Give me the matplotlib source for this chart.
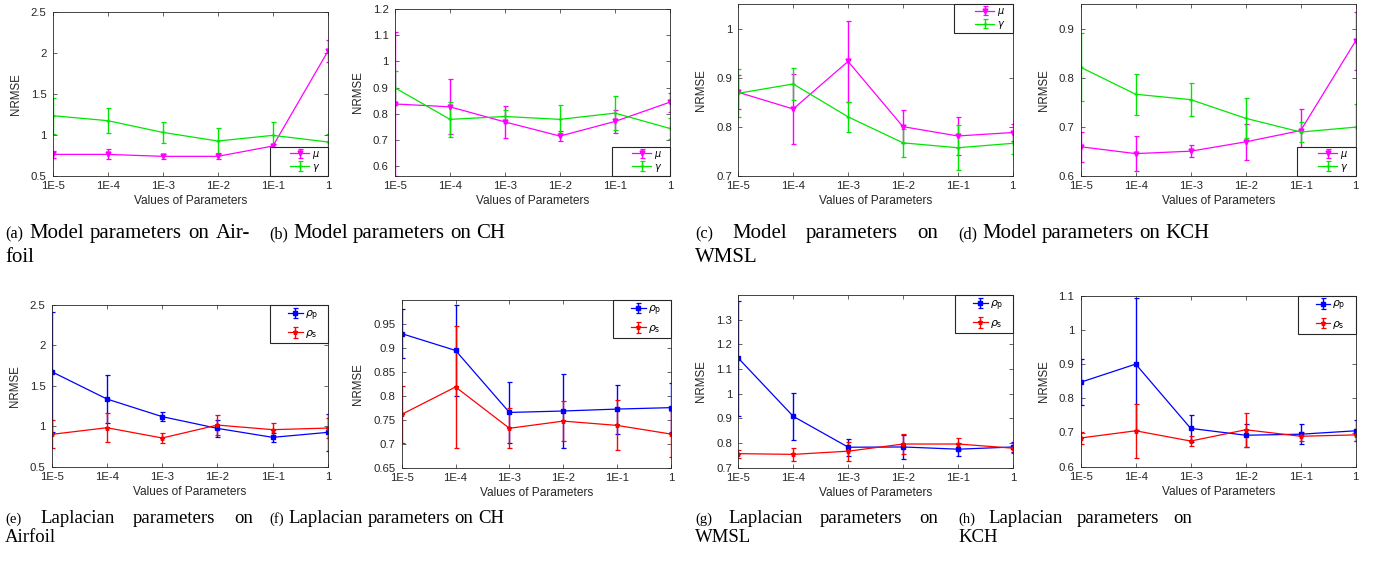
import numpy as np
import matplotlib
matplotlib.use('Agg')
import matplotlib.pyplot as plt
from matplotlib.ticker import FuncFormatter, FixedLocator
from matplotlib.legend_handler import HandlerErrorbar

# ---------------- data ----------------
x_labels = ['1E-5', '1E-4', '1E-3', '1E-2', '1E-1', '1']

# (a) Model parameters on Airfoil
a_mu = [0.76, 0.76, 0.736, 0.736, 0.862, 2.02]
a_mu_err = [0.045, 0.06, 0.03, 0.035, 0.03, 0.135]
a_gamma = [1.232, 1.171, 1.028, 0.923, 0.992, 0.911]
a_gamma_err = [0.22, 0.15, 0.125, 0.16, 0.16, 0.10]

# (b) Model parameters on CH
b_mu = [0.837, 0.826, 0.768, 0.714, 0.770, 0.844]
b_mu_err = [0.275, 0.105, 0.062, 0.02, 0.043, 0.037]
b_gamma = [0.899, 0.778, 0.789, 0.778, 0.802, 0.743]
b_gamma_err = [0.065, 0.068, 0.024, 0.054, 0.064, 0.039]

# (c) Model parameters on WMSL
c_mu = [0.870, 0.836, 0.933, 0.800, 0.781, 0.788]
c_mu_err = [0.035, 0.072, 0.083, 0.034, 0.039, 0.017]
c_gamma = [0.868, 0.887, 0.820, 0.767, 0.757, 0.766]
c_gamma_err = [0.049, 0.032, 0.031, 0.028, 0.046, 0.022]

# (d) Model parameters on KCH
d_mu = [0.659, 0.645, 0.650, 0.669, 0.692, 0.875]
d_mu_err = [0.031, 0.036, 0.012, 0.037, 0.043, 0.059]
d_gamma = [0.821, 0.766, 0.755, 0.717, 0.689, 0.699]
d_gamma_err = [0.069, 0.042, 0.034, 0.041, 0.02, 0.047]

# (e) Laplacian parameters on Airfoil
e_rp = [1.675, 1.337, 1.119, 0.974, 0.863, 0.925]
e_rp_err = [0.74, 0.30, 0.058, 0.107, 0.052, 0.23]
e_rs = [0.90, 0.982, 0.855, 1.015, 0.958, 0.978]
e_rs_err = [0.173, 0.177, 0.066, 0.12, 0.082, 0.12]

# (f) Laplacian parameters on CH
f_rp = [0.929, 0.894, 0.765, 0.768, 0.772, 0.775]
f_rp_err = [0.051, 0.095, 0.064, 0.077, 0.051, 0.051]
f_rs = [0.761, 0.818, 0.732, 0.747, 0.738, 0.720]
f_rs_err = [0.059, 0.126, 0.042, 0.042, 0.052, 0.047]

# (g) Laplacian parameters on WMSL
g_rp = [1.144, 0.908, 0.783, 0.784, 0.775, 0.784]
g_rp_err = [0.233, 0.096, 0.035, 0.05, 0.026, 0.021]
g_rs = [0.757, 0.754, 0.767, 0.796, 0.796, 0.779]
g_rs_err = [0.016, 0.027, 0.039, 0.039, 0.025, 0.02]

# (h) Laplacian parameters on KCH
h_rp = [0.847, 0.900, 0.712, 0.692, 0.695, 0.705]
h_rp_err = [0.067, 0.194, 0.039, 0.033, 0.029, 0.031]
h_rs = [0.684, 0.705, 0.675, 0.708, 0.689, 0.693]
h_rs_err = [0.018, 0.079, 0.015, 0.049, 0.013, 0.018]

model_labels = [r'$\mu$', r'$\gamma$']
lap_labels = [r'$\rho_{\rm p}$', r'$\rho_{\rm s}$']

captions = [
    ('(a)', [['Model', 'parameters', 'on', 'Air-'], ['foil']]),
    ('(b)', [['Model', 'parameters', 'on', 'CH']]),
    ('(c)', [['Model', 'parameters', 'on'], ['WMSL']]),
    ('(d)', [['Model', 'parameters', 'on', 'KCH']]),
    ('(e)', [['Laplacian', 'parameters', 'on'], ['Airfoil']]),
    ('(f)', [['Laplacian', 'parameters', 'on', 'CH']]),
    ('(g)', [['Laplacian', 'parameters', 'on'], ['WMSL']]),
    ('(h)', [['Laplacian', 'parameters', 'on'], ['KCH']]),
]

# ---------------- layout / style ----------------
W, H = 1392, 561
fig = plt.figure(figsize=(W / 100, H / 100), dpi=100)
plt.rcParams['font.family'] = ['Liberation Sans', 'DejaVu Sans']
plt.rcParams['mathtext.fontset'] = 'dejavusans'
TXT = '#262626'


class ShiftedErrorbarHandler(HandlerErrorbar):
    """MATLAB-like legend entry: the sample sits in the right part of the handle box."""
    def create_artists(self, legend, orig_handle, xdescent, ydescent, width, height,
                       fontsize, trans):
        shift = width * 0.5
        return super().create_artists(legend, orig_handle, xdescent - shift, ydescent,
                                      width - shift, height, fontsize, trans)


# axes boxes in pixels: left, right, top, bottom
boxes = [
    (52.7, 328, 11.7, 175.7),
    (395, 670, 9.3, 175.7),
    (738.3, 1012.7, 4, 175.7),
    (1080.7, 1355.7, 4, 175.7),
    (51.7, 328, 305, 466.7),
    (401.7, 671, 300, 467.7),
    (738.3, 1013.3, 295, 467.7),
    (1080.7, 1355.7, 295.7, 466.7),
]
ylims = [(0.5, 2.5), (0.562, 1.2), (0.7, 1.05), (0.6, 0.95),
         (0.5, 2.5), (0.65, 0.999), (0.7, 1.4), (0.6, 1.1)]
yticks = [np.arange(0.5, 2.51, 0.5), np.arange(0.6, 1.21, 0.1),
          np.arange(0.7, 1.01, 0.1), np.arange(0.6, 0.91, 0.1),
          np.arange(0.5, 2.51, 0.5), np.arange(0.65, 0.951, 0.05),
          np.arange(0.7, 1.31, 0.1), np.arange(0.6, 1.11, 0.1)]
series = [
    (a_mu, a_mu_err, a_gamma, a_gamma_err),
    (b_mu, b_mu_err, b_gamma, b_gamma_err),
    (c_mu, c_mu_err, c_gamma, c_gamma_err),
    (d_mu, d_mu_err, d_gamma, d_gamma_err),
    (e_rp, e_rp_err, e_rs, e_rs_err),
    (f_rp, f_rp_err, f_rs, f_rs_err),
    (g_rp, g_rp_err, g_rs, g_rs_err),
    (h_rp, h_rp_err, h_rs, h_rs_err),
]
legend_locs = ['lower right', 'lower right', 'upper right', 'lower right',
               'upper right', 'upper right', 'upper right', 'upper right']

fmt = FuncFormatter(lambda v, p: '%g' % round(v, 3))
x = np.arange(len(x_labels))

for i, (box, yl, yt, s, loc) in enumerate(zip(boxes, ylims, yticks, series, legend_locs)):
    l, r, t, b = box
    ax = fig.add_axes([l / W, 1 - b / H, (r - l) / W, (b - t) / H])
    if i < 4:
        c1, c2, m1, m2, ms1, ms2 = '#ff00ff', '#00e600', 'v', '+', 3.5, 3.5
        labs = model_labels
    else:
        c1, c2, m1, m2, ms1, ms2 = '#0000ff', '#ff0000', 's', '*', 2.6, 3.5
        labs = lap_labels
    ax.errorbar(x, s[0], yerr=s[1], color=c1, marker=m1, ms=ms1, lw=0.9,
                elinewidth=1.0, capsize=1.8, capthick=0.9, label=labs[0] + '   ')
    ax.errorbar(x, s[2], yerr=s[3], color=c2, marker=m2, ms=ms2, lw=0.9,
                elinewidth=1.0, capsize=1.8, capthick=0.9, label=labs[1] + '   ')
    ax.set_xlim(0, len(x_labels) - 1)
    ax.set_ylim(*yl)
    ax.set_xticks(x)
    ax.set_xticklabels(x_labels)
    ax.yaxis.set_major_locator(FixedLocator(yt))
    ax.yaxis.set_major_formatter(fmt)
    ax.tick_params(direction='in', top=True, right=True, length=2.8, width=0.5,
                   labelsize=8.2, colors=TXT)
    ax.tick_params(axis='x', pad=3.6)
    ax.tick_params(axis='y', pad=4.5)
    for sp in ax.spines.values():
        sp.set_color(TXT)
        sp.set_linewidth(0.6)
    ax.set_ylabel('NRMSE', fontsize=8.3, color=TXT, labelpad=6.5)
    ax.set_xlabel('Values of Parameters', fontsize=8.6, color=TXT, labelpad=3)
    if i < 4:
        leg = ax.legend(loc=loc, borderaxespad=0, fancybox=False, fontsize=7,
                        handlelength=3.9, framealpha=1, borderpad=0.2,
                        labelspacing=0.1, handletextpad=0.3,
                        handler_map={type(ax.containers[0]): ShiftedErrorbarHandler()})
    else:
        leg = ax.legend(loc=loc, borderaxespad=0, fancybox=False, fontsize=7.8,
                        handlelength=2.7, framealpha=1, borderpad=0.3,
                        labelspacing=0.5, handletextpad=0.2,
                        handler_map={type(ax.containers[0]): ShiftedErrorbarHandler()})
    leg.get_frame().set_edgecolor(TXT)
    leg.get_frame().set_linewidth(0.8)

# ---------------- captions (justified like LaTeX) ----------------
renderer = fig.canvas.get_renderer()
SERIF = ['Liberation Serif', 'DejaVu Serif']
cap_pos = [(5, 250, 238, 15), (269, 500, 238, 15), (695, 938, 238, 15), (958, 1192, 238, 15),
           (5, 253, 523, 13.5), (269, 500, 523, 13.5), (695, 938, 523, 13.5), (958, 1192, 523, 13.5)]
for (label, lines), (x0, x1, yb, fs) in zip(captions, cap_pos):
    lh = 19 if fs < 14.5 else 24
    for li, words in enumerate(lines):
        items = ([(label, fs * 0.78)] if li == 0 else []) + [(w, fs) for w in words]
        texts = [fig.text(0, 0, sx, fontsize=f, family=SERIF, va='baseline', ha='left',
                          color='black') for sx, f in items]
        widths = [tx.get_window_extent(renderer).width for tx in texts]
        last = li == len(lines) - 1
        if not last and len(items) > 1:
            gap = (x1 - x0 - sum(widths)) / (len(items) - 1)
        else:
            gap = 0.25 * fs * 100 / 72
        xx = x0
        y = yb + li * lh
        for tx, w in zip(texts, widths):
            tx.set_position((xx / W, 1 - y / H))
            xx += w + gap

fig.savefig('out.png', dpi=100)
